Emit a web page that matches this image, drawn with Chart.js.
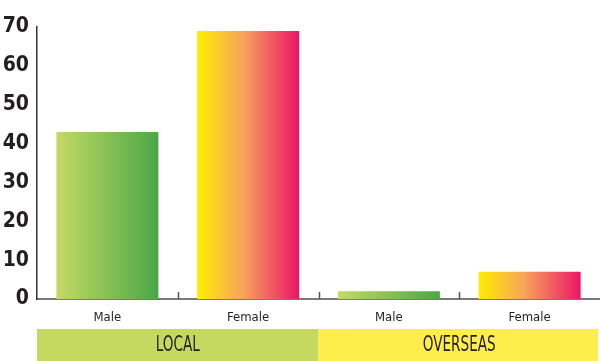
<!DOCTYPE html>
<html>
<head>
<meta charset="utf-8">
<script src="https://cdn.jsdelivr.net/npm/chart.js@4"></script>
<style>
    html, body { margin: 0; padding: 0; background: #fff; }
    #wrap { width: 600px; height: 361px; }
</style>
</head>
<body>
<div id="wrap"><canvas id="genderChart"></canvas></div>
<script>
// Chart data
const categories = ['Male', 'Female', 'Male', 'Female'];
const counts = [43, 69, 2, 7];
const groups = ['LOCAL', 'OVERSEAS'];
const groupColors = ['#c5d961', '#fdee4b'];
const yTicks = [0, 10, 20, 30, 40, 50, 60, 70];

const barPct = 0.725;
const bandHeight = 32;
const fontFamily = "'DejaVu Sans', sans-serif";

const gradientStops = {
    Male: [[0, '#c4da64'], [1, '#4ba746']],
    Female: [[0, '#ffed00'], [0.45, '#f6a45c'], [1, '#ec1565']]
};

// Horizontal gradient across each bar
function barGradient(context) {
    const chart = context.chart;
    const stops = gradientStops[categories[context.dataIndex]];
    if (!chart.chartArea) return stops[0][1];
    const x = chart.scales.x;
    const w = (x.width / categories.length) * barPct;
    const cx = x.getPixelForValue(context.dataIndex);
    const g = chart.ctx.createLinearGradient(cx - w / 2, 0, cx + w / 2, 0);
    stops.forEach(s => g.addColorStop(s[0], s[1]));
    return g;
}

// Inner tick marks between categories + group bands under the axis
const groupBands = {
    id: 'groupBands',
    afterDraw(chart) {
        const ctx = chart.ctx;
        const x = chart.scales.x;
        const area = chart.chartArea;
        const catW = x.width / categories.length;
        const perGroup = categories.length / groups.length;

        ctx.save();
        ctx.strokeStyle = '#555';
        ctx.lineWidth = 1.5;
        for (let i = 1; i < categories.length; i++) {
            const px = Math.round(x.getPixelForValue(i) - catW / 2) + 0.5;
            ctx.beginPath();
            ctx.moveTo(px, area.bottom);
            ctx.lineTo(px, area.bottom - 7);
            ctx.stroke();
        }

        const top = chart.height - bandHeight;
        groups.forEach((name, g) => {
            const left = x.getPixelForValue(g * perGroup) - catW / 2;
            const right = g === groups.length - 1 ? chart.width - 2 : left + catW * perGroup;
            ctx.fillStyle = groupColors[g];
            ctx.fillRect(left, top, right - left, bandHeight);

            ctx.save();
            ctx.translate((left + left + catW * perGroup) / 2, top + bandHeight / 2 + 1);
            ctx.scale(0.72, 1);
            ctx.fillStyle = '#231f20';
            ctx.font = 'condensed 21px ' + fontFamily;
            ctx.textAlign = 'center';
            ctx.textBaseline = 'middle';
            ctx.fillText(name, 0, 0);
            ctx.restore();
        });
        ctx.restore();
    }
};

const ctx = document.getElementById('genderChart').getContext('2d');
new Chart(ctx, {
    type: 'bar',
    data: {
        labels: categories,
        datasets: [{
            data: counts,
            backgroundColor: barGradient,
            borderWidth: 0,
            barPercentage: barPct,
            categoryPercentage: 1
        }]
    },
    options: {
        responsive: true,
        maintainAspectRatio: false,
        animation: false,
        layout: { padding: { top: 27, right: 0, left: 0, bottom: 0 } },
        plugins: {
            legend: { display: false },
            tooltip: { enabled: false }
        },
        scales: {
            x: {
                grid: { display: false, drawTicks: false },
                border: { display: true, color: '#7a7a7a', width: 2 },
                ticks: {
                    padding: 11,
                    color: '#231f20',
                    font: { family: fontFamily, size: 13, weight: 'condensed' }
                },
                afterFit: scale => { scale.height = 62; }
            },
            y: {
                min: 0,
                max: 70,
                grid: { display: false, drawTicks: false },
                border: { display: true, color: '#333', width: 1.5 },
                afterBuildTicks: scale => { scale.ticks = yTicks.map(v => ({ value: v })); },
                ticks: {
                    padding: 8,
                    color: '#231f20',
                    font: { family: fontFamily, size: 21, weight: 'bold condensed' }
                },
                afterFit: scale => { scale.width = 37; }
            }
        }
    },
    plugins: [groupBands]
});
</script>
</body>
</html>
